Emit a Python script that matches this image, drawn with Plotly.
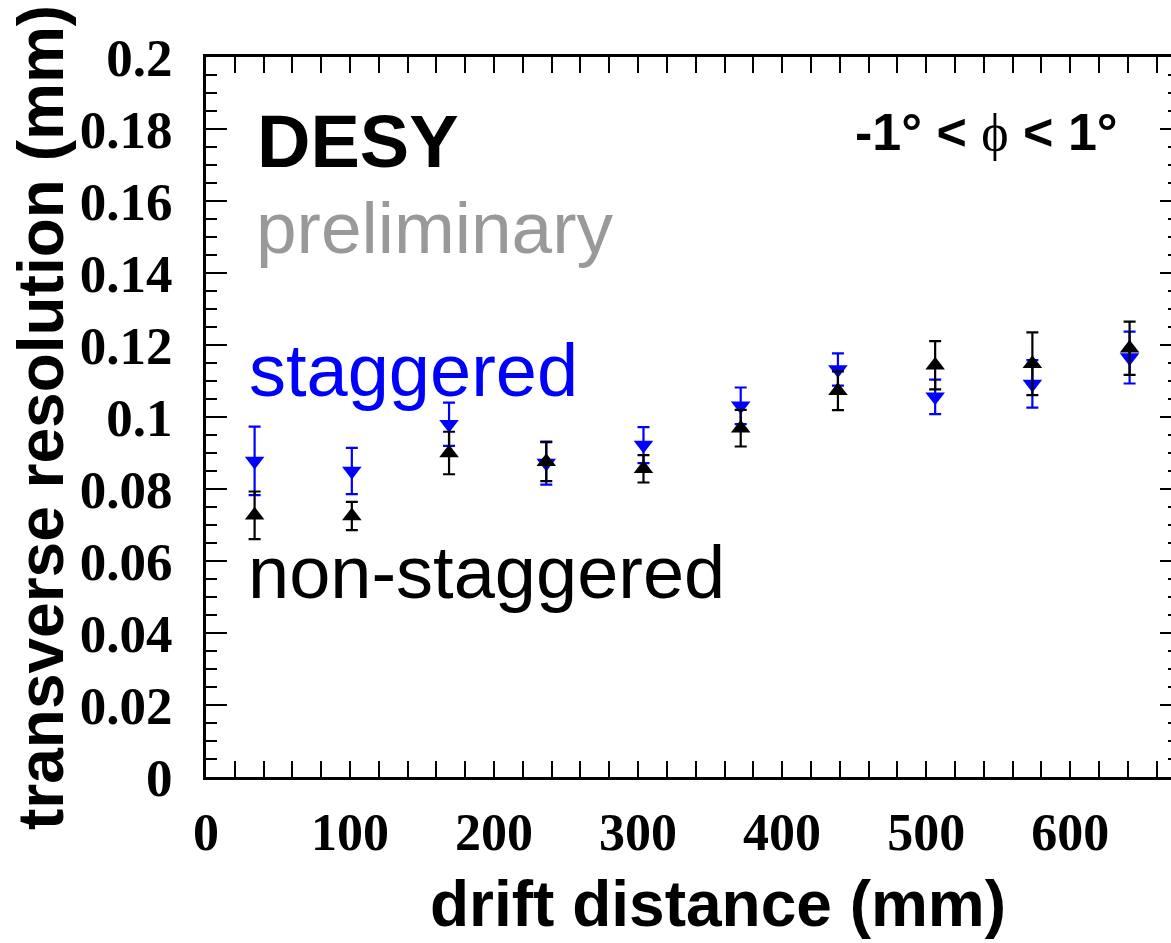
import plotly.graph_objects as go

# ---- data ----
drift_distance = [33.75, 101.25, 168.75, 236.25, 303.75, 371.25, 438.75, 506.25, 573.75, 641.25]

staggered_res = [0.0878, 0.0850, 0.0980, 0.0872, 0.0922, 0.1031, 0.1132, 0.1056, 0.1092, 0.1165]
staggered_err = [0.0095, 0.0064, 0.0060, 0.0060, 0.0050, 0.0051, 0.0045, 0.0048, 0.0066, 0.0072]

nonstaggered_res = [0.0727, 0.0725, 0.0900, 0.0876, 0.0856, 0.0969, 0.1073, 0.1144, 0.1148, 0.1191]
nonstaggered_err = [0.0066, 0.0039, 0.0059, 0.0054, 0.0038, 0.0051, 0.0054, 0.0067, 0.0087, 0.0074]

x_tickvals = [0, 100, 200, 300, 400, 500, 600]
x_ticktext = ["0", "100", "200", "300", "400", "500", "600"]
y_tickvals = [0, 0.02, 0.04, 0.06, 0.08, 0.1, 0.12, 0.14, 0.16, 0.18, 0.2]
y_ticktext = ["0", "0.02", "0.04", "0.06", "0.08", "0.1", "0.12", "0.14", "0.16", "0.18", "0.2"]

x_range = [0, 670]
y_range = [0, 0.2]

# ---- layout geometry (pixels) ----
W, H = 1171, 943
L, R, T, B = 206, 0, 57, 166
PW = W - L - R
PH = H - T - B


def px(xp):
    return (xp - L) / PW


def py(yp):
    return (H - B - yp) / PH


SANS = "Liberation Sans, Arial, sans-serif"
SERIF = "Liberation Serif, Times New Roman, serif"
BLUE = "#0000ff"

fig = go.Figure()

fig.add_trace(go.Scatter(
    x=drift_distance, y=staggered_res,
    mode="markers",
    marker=dict(symbol="triangle-down", size=17, color=BLUE),
    error_y=dict(type="data", array=staggered_err, visible=True,
                 color=BLUE, thickness=2.2, width=6),
    name="staggered", cliponaxis=False,
))
fig.add_trace(go.Scatter(
    x=drift_distance, y=nonstaggered_res,
    mode="markers",
    marker=dict(symbol="triangle-up", size=17, color="black"),
    error_y=dict(type="data", array=nonstaggered_err, visible=True,
                 color="black", thickness=2.2, width=6),
    name="non-staggered", cliponaxis=False,
))
# empty helper trace so the right-hand (mirrored, mostly off-page) tick axis is drawn
fig.add_trace(go.Scatter(x=[], y=[], yaxis="y2", showlegend=False, hoverinfo="skip"))

fig.update_layout(
    xaxis=dict(
        range=x_range, tickmode="array", tickvals=x_tickvals, ticktext=x_ticktext,
        showgrid=False, zeroline=False,
        showline=True, linecolor="black", linewidth=3, mirror="allticks",
        ticks="inside", ticklen=16, tickwidth=2, tickcolor="black",
        tickfont=dict(family=SERIF, size=52, color="black", weight="bold"),
        ticklabelstandoff=8,
        minor=dict(tick0=0, dtick=20, ticks="inside", ticklen=9, tickwidth=2,
                   tickcolor="black", showgrid=False),
    ),
    yaxis=dict(
        range=y_range, tickmode="array", tickvals=y_tickvals, ticktext=y_ticktext,
        showgrid=False, zeroline=False,
        showline=True, linecolor="black", linewidth=3, mirror=False,
        ticks="inside", ticklen=21, tickwidth=2, tickcolor="black",
        tickfont=dict(family=SERIF, size=53, color="black", weight="bold"),
        ticklabelstandoff=20,
        minor=dict(tick0=0, dtick=0.005, ticks="inside", ticklen=11, tickwidth=2,
                   tickcolor="black", showgrid=False),
    ),
    yaxis2=dict(
        overlaying="y", side="right", range=y_range,
        tickmode="array", tickvals=y_tickvals, showticklabels=False,
        showgrid=False, zeroline=False, showline=False,
        ticks="inside", ticklen=11, tickwidth=2, tickcolor="black",
        minor=dict(tick0=0, dtick=0.005, ticks="inside", ticklen=3, tickwidth=2,
                   tickcolor="black", showgrid=False),
    ),
)

annotations = [
    dict(text="<b>DESY</b>", x=px(255), y=py(141), xanchor="left", yanchor="middle",
         font=dict(family=SANS, size=74, color="black")),
    dict(text="preliminary", x=px(254), y=py(227), xanchor="left", yanchor="middle",
         font=dict(family=SANS, size=73, color="#999999")),
    dict(text="staggered", x=px(247), y=py(370), xanchor="left", yanchor="middle",
         font=dict(family=SANS, size=74, color=BLUE)),
    dict(text="non-staggered", x=px(246), y=py(572), xanchor="left", yanchor="middle",
         font=dict(family=SANS, size=74, color="black")),
    dict(text="<b>-1° < </b><span style=\"font-family:'Liberation Serif','DejaVu Serif',serif;font-weight:normal\">ϕ</span><b> < 1°</b>",
         x=px(1120), y=py(132), xanchor="right", yanchor="middle",
         font=dict(family=SANS, size=52, color="black")),
    dict(text="<b>drift distance (mm)</b>", x=px(718), y=py(904), xanchor="center", yanchor="middle",
         font=dict(family=SANS, size=64, color="black")),
    dict(text="<b>transverse resolution (mm)</b>", x=px(41), y=py(418), xanchor="center", yanchor="middle",
         textangle=-90, font=dict(family=SANS, size=64, color="black")),
]
for a in annotations:
    a.update(xref="paper", yref="paper", showarrow=False)

fig.update_layout(
    width=W, height=H, autosize=False,
    margin=dict(l=L, r=R, t=T, b=B, pad=0),
    paper_bgcolor="white", plot_bgcolor="white",
    showlegend=False,
    annotations=annotations,
)

fig.write_html("out.html")
